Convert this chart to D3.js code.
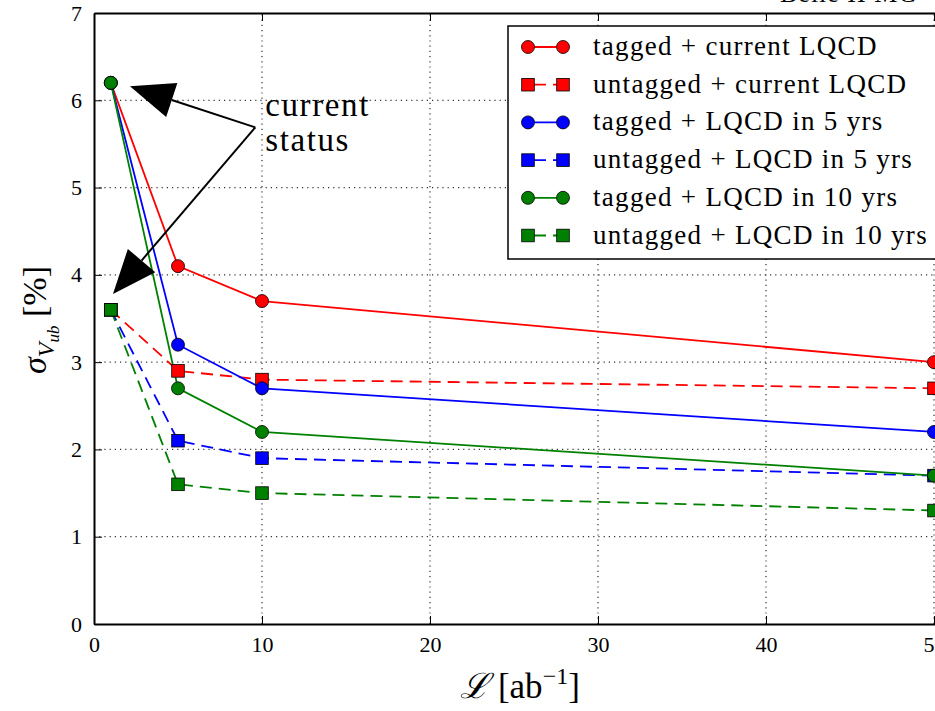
<!DOCTYPE html>
<html>
<head>
<meta charset="utf-8">
<script src="https://cdn.jsdelivr.net/npm/d3@7"></script>
<style>
  body { margin: 0; background: #fff; }
  svg text { font-family: "Liberation Serif", "DejaVu Serif", serif; fill: #000; }
</style>
</head>
<body>
<div id="chart"></div>
<script>
// luminosity points (ab^-1)
const lumi = [1, 5, 10, 50];

// sigma(Vub) in %
const taggedCurrent   = [6.2, 4.1, 3.7, 3.0];
const untaggedCurrent = [3.6, 2.9, 2.8, 2.7];
const tagged5yrs      = [6.2, 3.2, 2.7, 2.2];
const untagged5yrs    = [3.6, 2.1, 1.9, 1.7];
const tagged10yrs     = [6.2, 2.7, 2.2, 1.7];
const untagged10yrs   = [3.6, 1.6, 1.5, 1.3];

const seriesNames = [
  "tagged + current LQCD",
  "untagged + current LQCD",
  "tagged + LQCD in 5 yrs",
  "untagged + LQCD in 5 yrs",
  "tagged + LQCD in 10 yrs",
  "untagged + LQCD in 10 yrs"
];
const seriesValues = [taggedCurrent, untaggedCurrent, tagged5yrs, untagged5yrs, tagged10yrs, untagged10yrs];
const seriesColors = ["#ff0000", "#ff0000", "#0000ff", "#0000ff", "#008000", "#008000"];
const seriesTagged = [true, false, true, false, true, false];

const xTicks = [0, 10, 20, 30, 40, 50];
const yTicks = [0, 1, 2, 3, 4, 5, 6, 7];

// annotation: text anchor and the two arrow targets (data coords)
const annText = ["current", "status"];
const annFrom = [9.6, 5.69];
const annTargets = [[2.14, 6.16], [1.13, 3.78]];

// set the dimensions and margins of the graph
const W = 935, H = 711;
const margin = {top: 13, left: 94};
const plotW = 51 * 16.8, plotH = 611;

const svg = d3.select("#chart")
  .append("svg")
    .attr("width", W)
    .attr("height", H);

const x = d3.scaleLinear().domain([0, 51]).range([margin.left, margin.left + plotW]);
const y = d3.scaleLinear().domain([0, 7]).range([margin.top + plotH, margin.top]);

const g = svg.append("g");

// grid
g.append("g")
  .selectAll("line")
  .data(xTicks.slice(1))
  .join("line")
    .attr("x1", d => x(d)).attr("x2", d => x(d))
    .attr("y1", y(0)).attr("y2", y(7))
    .attr("stroke", "#333").attr("stroke-width", 1.2)
    .attr("stroke-dasharray", "1.2,4");
g.append("g")
  .selectAll("line")
  .data(yTicks.slice(1, -1))
  .join("line")
    .attr("x1", x(0)).attr("x2", x(51))
    .attr("y1", d => y(d)).attr("y2", d => y(d))
    .attr("stroke", "#333").attr("stroke-width", 1.2)
    .attr("stroke-dasharray", "1.2,4");

// axes with inward ticks
const axB = g.append("g")
  .attr("transform", `translate(0,${y(0)})`)
  .call(d3.axisBottom(x).tickValues(xTicks).tickSizeInner(-8).tickSizeOuter(0).tickPadding(12).tickFormat(d3.format("d")));
const axT = g.append("g")
  .attr("transform", `translate(0,${y(7)})`)
  .call(d3.axisTop(x).tickValues(xTicks).tickSizeInner(-8).tickSizeOuter(0).tickFormat(""));
const axL = g.append("g")
  .attr("transform", `translate(${x(0)},0)`)
  .call(d3.axisLeft(y).tickValues(yTicks).tickSizeInner(-8).tickSizeOuter(0).tickPadding(12).tickFormat(d3.format("d")));
[axB, axT, axL].forEach(a => {
  a.attr("font-family", "Liberation Serif").attr("font-size", 22);
  a.select(".domain").attr("stroke", "#000").attr("stroke-width", 2);
  a.selectAll(".tick line").attr("stroke", "#000").attr("stroke-width", 1);
});

// lines
const line = d3.line().x((d, i) => x(lumi[i])).y(d => y(d));
seriesValues.forEach((vals, k) => {
  g.append("path")
    .datum(vals)
    .attr("d", line)
    .attr("fill", "none")
    .attr("stroke", seriesColors[k])
    .attr("stroke-width", 1.8)
    .attr("stroke-dasharray", seriesTagged[k] ? null : "12,7");
});
// markers
seriesValues.forEach((vals, k) => {
  const mg = g.append("g");
  if (seriesTagged[k]) {
    mg.selectAll("circle").data(vals).join("circle")
      .attr("cx", (d, i) => x(lumi[i])).attr("cy", d => y(d)).attr("r", 6.5)
      .attr("fill", seriesColors[k]).attr("stroke", "#000").attr("stroke-width", 0.8);
  } else {
    mg.selectAll("rect").data(vals).join("rect")
      .attr("x", (d, i) => x(lumi[i]) - 6.3).attr("y", d => y(d) - 6.3)
      .attr("width", 12.6).attr("height", 12.6)
      .attr("fill", seriesColors[k]).attr("stroke", "#000").attr("stroke-width", 0.8);
  }
});

// annotation arrows
const fx = x(annFrom[0]), fy = y(annFrom[1]);
annTargets.forEach(t => {
  const tx = x(t[0]), ty = y(t[1]);
  const dx = fx - tx, dy = fy - ty, len = Math.hypot(dx, dy);
  const ux = dx / len, uy = dy / len;
  const hl = 44, hw = 18;
  const bx = tx + ux * hl, by = ty + uy * hl;
  g.append("line")
    .attr("x1", fx).attr("y1", fy).attr("x2", bx).attr("y2", by)
    .attr("stroke", "#000").attr("stroke-width", 2);
  g.append("path")
    .attr("d", `M${tx},${ty}L${bx - uy * hw},${by + ux * hw}L${bx + uy * hw},${by - ux * hw}Z`)
    .attr("fill", "#000");
});
g.append("text")
  .attr("x", fx + 10).attr("y", fy - 11)
  .style("font-size", "33px")
  .style("letter-spacing", "1.6px")
  .selectAll("tspan").data(annText).join("tspan")
    .attr("x", fx + 10).attr("dy", (d, i) => i ? 35 : 0)
    .text(d => d);

// legend
const lg = svg.append("g").attr("transform", "translate(508,26)");
lg.append("rect")
  .attr("width", 460).attr("height", 233)
  .attr("fill", "#fff").attr("stroke", "#000").attr("stroke-width", 1.5);
seriesNames.forEach((name, k) => {
  const row = lg.append("g").attr("transform", `translate(0,${21 + k * 37.7})`);
  row.append("line")
    .attr("x1", 20).attr("x2", 55).attr("y1", 0).attr("y2", 0)
    .attr("stroke", seriesColors[k]).attr("stroke-width", 1.8)
    .attr("stroke-dasharray", seriesTagged[k] ? null : "12,7")
    .attr("stroke-dashoffset", seriesTagged[k] ? null : -6);
  [20, 55].forEach(px => {
    if (seriesTagged[k]) {
      row.append("circle").attr("cx", px).attr("cy", 0).attr("r", 6.5)
        .attr("fill", seriesColors[k]).attr("stroke", "#000").attr("stroke-width", 0.8);
    } else {
      row.append("rect").attr("x", px - 6.3).attr("y", -6.3).attr("width", 12.6).attr("height", 12.6)
        .attr("fill", seriesColors[k]).attr("stroke", "#000").attr("stroke-width", 0.8);
    }
  });
  row.append("text")
    .attr("x", 85).attr("y", 8)
    .style("font-size", "27px")
    .style("letter-spacing", "1.3px")
    .text(name);
});

// title (mostly cut off at the top)
svg.append("text")
  .attr("x", 780).attr("y", 2)
  .style("font-size", "26px")
  .style("letter-spacing", "1px")
  .text("Belle II MC");

// axis labels
const xl = svg.append("text")
  .attr("x", 520).attr("y", 698)
  .attr("text-anchor", "middle")
  .style("font-size", "35px");
xl.append("tspan").style("font-style", "italic").style("font-family", "DejaVu Serif, serif").text("\u2112");
xl.append("tspan").text(" [ab");
xl.append("tspan").attr("dy", -14).style("font-size", "24px").text("\u22121");
xl.append("tspan").attr("dy", 14).text("]");

const yl = svg.append("text")
  .attr("transform", "translate(46,320) rotate(-90)")
  .attr("text-anchor", "middle")
  .style("font-size", "34px");
yl.append("tspan").style("font-style", "italic").text("\u03c3");
yl.append("tspan").attr("dy", 8).style("font-style", "italic").style("font-size", "24px").text("V");
yl.append("tspan").attr("dy", 5).style("font-style", "italic").style("font-size", "17px").text("ub");
yl.append("tspan").attr("dy", -13).text(" [%]");
</script>
</body>
</html>
